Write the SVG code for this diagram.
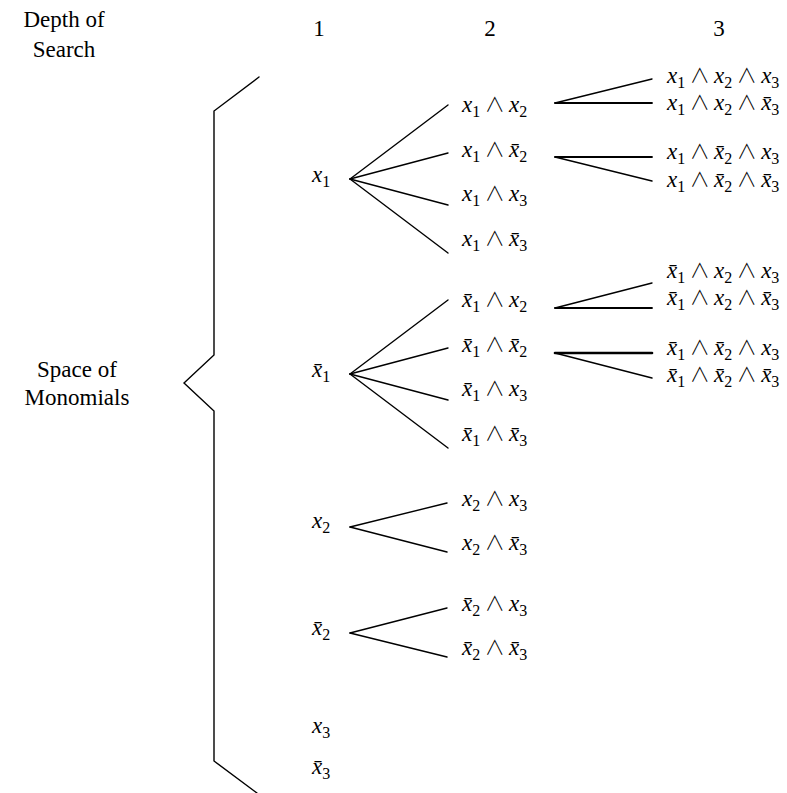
<svg xmlns="http://www.w3.org/2000/svg" width="787" height="793" viewBox="0 0 787 793" font-family="'Liberation Serif', 'Times New Roman', Times, 'DejaVu Serif', serif">
<style>
text{font-family:'Liberation Serif','Times New Roman',Times,'DejaVu Serif',serif;font-size:23px;fill:#000}
.m{font-style:italic}
.s{font-size:16px;font-style:normal}
.o{font-style:normal;font-family:'Noto Sans CJK JP','DejaVu Serif',serif;font-size:20px;font-weight:300}
.c line,.c polyline{stroke:#000;stroke-width:1.4;fill:none;stroke-linecap:round}
</style>
<rect width="787" height="793" fill="#fff"/>
<g id="header">
<text x="64" y="27" text-anchor="middle">Depth of</text>
<text x="64" y="57" text-anchor="middle">Search</text>
<text x="319" y="36" text-anchor="middle">1</text>
<text x="490" y="36" text-anchor="middle">2</text>
<text x="719" y="36" text-anchor="middle">3</text>
</g>
<g id="space-label">
<text x="77" y="377" text-anchor="middle">Space of</text>
<text x="77" y="405" text-anchor="middle">Monomials</text>
</g>
<g class="c" id="brace">
<polyline points="259,77 214,111 214,355 184,383 214,411 214,761 257,793"/>
</g>
<g id="level1">
<text id="n-x1" class="m" x="312" y="182">x<tspan class="s" dy="5">1</tspan></text>
<text id="n-nx1" class="m" x="312" y="377">x̄<tspan class="s" dy="5">1</tspan></text>
<text id="n-x2" class="m" x="312" y="528">x<tspan class="s" dy="5">2</tspan></text>
<text id="n-nx2" class="m" x="312" y="635">x̄<tspan class="s" dy="5">2</tspan></text>
<text id="n-x3" class="m" x="312" y="733">x<tspan class="s" dy="5">3</tspan></text>
<text id="n-nx3" class="m" x="312" y="774">x̄<tspan class="s" dy="5">3</tspan></text>
</g>
<g id="level2">
<text class="m" x="462" y="112">x<tspan class="s" dy="5">1</tspan><tspan class="o" dy="-5"> ∧ </tspan>x<tspan class="s" dy="5">2</tspan></text>
<text class="m" x="462" y="157">x<tspan class="s" dy="5">1</tspan><tspan class="o" dy="-5"> ∧ </tspan>x̄<tspan class="s" dy="5">2</tspan></text>
<text class="m" x="462" y="201">x<tspan class="s" dy="5">1</tspan><tspan class="o" dy="-5"> ∧ </tspan>x<tspan class="s" dy="5">3</tspan></text>
<text class="m" x="462" y="246">x<tspan class="s" dy="5">1</tspan><tspan class="o" dy="-5"> ∧ </tspan>x̄<tspan class="s" dy="5">3</tspan></text>
<text class="m" x="462" y="307">x̄<tspan class="s" dy="5">1</tspan><tspan class="o" dy="-5"> ∧ </tspan>x<tspan class="s" dy="5">2</tspan></text>
<text class="m" x="462" y="352">x̄<tspan class="s" dy="5">1</tspan><tspan class="o" dy="-5"> ∧ </tspan>x̄<tspan class="s" dy="5">2</tspan></text>
<text class="m" x="462" y="396">x̄<tspan class="s" dy="5">1</tspan><tspan class="o" dy="-5"> ∧ </tspan>x<tspan class="s" dy="5">3</tspan></text>
<text class="m" x="462" y="441">x̄<tspan class="s" dy="5">1</tspan><tspan class="o" dy="-5"> ∧ </tspan>x̄<tspan class="s" dy="5">3</tspan></text>
<text class="m" x="462" y="506">x<tspan class="s" dy="5">2</tspan><tspan class="o" dy="-5"> ∧ </tspan>x<tspan class="s" dy="5">3</tspan></text>
<text class="m" x="462" y="550">x<tspan class="s" dy="5">2</tspan><tspan class="o" dy="-5"> ∧ </tspan>x̄<tspan class="s" dy="5">3</tspan></text>
<text class="m" x="462" y="611">x̄<tspan class="s" dy="5">2</tspan><tspan class="o" dy="-5"> ∧ </tspan>x<tspan class="s" dy="5">3</tspan></text>
<text class="m" x="462" y="655">x̄<tspan class="s" dy="5">2</tspan><tspan class="o" dy="-5"> ∧ </tspan>x̄<tspan class="s" dy="5">3</tspan></text>
</g>
<g id="level3">
<text class="m" x="667" y="83">x<tspan class="s" dy="5">1</tspan><tspan class="o" dy="-5"> ∧ </tspan>x<tspan class="s" dy="5">2</tspan><tspan class="o" dy="-5"> ∧ </tspan>x<tspan class="s" dy="5">3</tspan></text>
<text class="m" x="667" y="110">x<tspan class="s" dy="5">1</tspan><tspan class="o" dy="-5"> ∧ </tspan>x<tspan class="s" dy="5">2</tspan><tspan class="o" dy="-5"> ∧ </tspan>x̄<tspan class="s" dy="5">3</tspan></text>
<text class="m" x="667" y="159">x<tspan class="s" dy="5">1</tspan><tspan class="o" dy="-5"> ∧ </tspan>x̄<tspan class="s" dy="5">2</tspan><tspan class="o" dy="-5"> ∧ </tspan>x<tspan class="s" dy="5">3</tspan></text>
<text class="m" x="667" y="187">x<tspan class="s" dy="5">1</tspan><tspan class="o" dy="-5"> ∧ </tspan>x̄<tspan class="s" dy="5">2</tspan><tspan class="o" dy="-5"> ∧ </tspan>x̄<tspan class="s" dy="5">3</tspan></text>
<text class="m" x="667" y="278">x̄<tspan class="s" dy="5">1</tspan><tspan class="o" dy="-5"> ∧ </tspan>x<tspan class="s" dy="5">2</tspan><tspan class="o" dy="-5"> ∧ </tspan>x<tspan class="s" dy="5">3</tspan></text>
<text class="m" x="667" y="305">x̄<tspan class="s" dy="5">1</tspan><tspan class="o" dy="-5"> ∧ </tspan>x<tspan class="s" dy="5">2</tspan><tspan class="o" dy="-5"> ∧ </tspan>x̄<tspan class="s" dy="5">3</tspan></text>
<text class="m" x="667" y="355">x̄<tspan class="s" dy="5">1</tspan><tspan class="o" dy="-5"> ∧ </tspan>x̄<tspan class="s" dy="5">2</tspan><tspan class="o" dy="-5"> ∧ </tspan>x<tspan class="s" dy="5">3</tspan></text>
<text class="m" x="667" y="382">x̄<tspan class="s" dy="5">1</tspan><tspan class="o" dy="-5"> ∧ </tspan>x̄<tspan class="s" dy="5">2</tspan><tspan class="o" dy="-5"> ∧ </tspan>x̄<tspan class="s" dy="5">3</tspan></text>
</g>
<g class="c" id="connectors">
<line x1="350" y1="179" x2="448" y2="105"/>
<line x1="350" y1="179" x2="448" y2="153"/>
<line x1="350" y1="179" x2="448" y2="205"/>
<line x1="350" y1="179" x2="448" y2="253"/>
<line x1="350" y1="374" x2="448" y2="300"/>
<line x1="350" y1="374" x2="448" y2="348"/>
<line x1="350" y1="374" x2="448" y2="400"/>
<line x1="350" y1="374" x2="448" y2="448"/>
<line x1="350" y1="527" x2="447" y2="503"/>
<line x1="350" y1="527" x2="447" y2="552"/>
<line x1="350" y1="633" x2="447" y2="608"/>
<line x1="350" y1="633" x2="447" y2="657"/>
<line x1="555" y1="103" x2="652" y2="79"/>
<line x1="555" y1="103" x2="652" y2="103" style="stroke-width:1.8"/>
<line x1="555" y1="157" x2="652" y2="157" style="stroke-width:1.8"/>
<line x1="555" y1="157" x2="652" y2="181"/>
<line x1="555" y1="308" x2="652" y2="283"/>
<line x1="555" y1="308" x2="652" y2="308" style="stroke-width:1.8"/>
<line x1="555" y1="353" x2="652" y2="353" style="stroke-width:2.6"/>
<line x1="555" y1="353" x2="652" y2="378"/>
</g>
</svg>
